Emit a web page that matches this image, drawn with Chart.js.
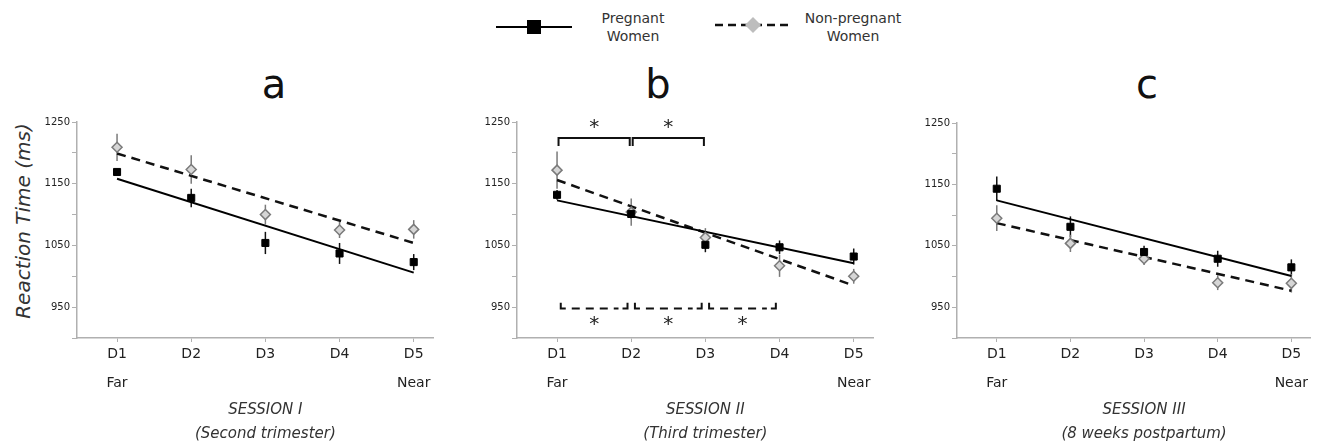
<!DOCTYPE html>
<html>
<head>
<meta charset="utf-8">
<script src="https://cdn.jsdelivr.net/npm/chart.js@4/dist/chart.umd.min.js"></script>
<style>
  body { margin: 0; background: #fff; }
  #wrap { position: relative; width: 1317px; height: 448px; overflow: hidden; font-family: "DejaVu Sans", Verdana, sans-serif; color: #333; }
  canvas { position: absolute; top: 100px; }
  .letter { position: absolute; top: 64px; width: 100px; text-align: center; font-size: 40px; line-height: 40px; color: #111; }
  .ytitle { position: absolute; left: 23px; top: 221px; transform: translate(-50%, -50%) rotate(-90deg); font-size: 20px; font-style: italic; white-space: nowrap; color: #333; }
  .legtext { position: absolute; top: 9px; width: 140px; text-align: center; font-size: 14px; line-height: 18px; color: #333; }
  #legsvg { position: absolute; left: 0; top: 0; }
</style>
</head>
<body>
<div id="wrap">
  <svg id="legsvg" width="1317" height="50">
    <line x1="496" y1="27" x2="572" y2="27" stroke="#000" stroke-width="2"/>
    <rect x="527" y="20" width="14" height="14" fill="#000"/>
    <line x1="715" y1="25" x2="790" y2="25" stroke="#111" stroke-width="2.5" stroke-dasharray="8 5"/>
    <polygon points="753,17 761,25 753,33 745,25" fill="#bdbdbd"/>
  </svg>
  <div class="legtext" style="left:563px">Pregnant<br>Women</div>
  <div class="legtext" style="left:783px">Non-pregnant<br>Women</div>
  <div class="letter" style="left:224px">a</div>
  <div class="letter" style="left:608px">b</div>
  <div class="letter" style="left:1097px">c</div>
  <div class="ytitle">Reaction Time (ms)</div>
  <canvas id="chartA" width="440" height="348" style="left:0px"></canvas>
  <canvas id="chartB" width="440" height="348" style="left:440px"></canvas>
  <canvas id="chartC" width="437" height="348" style="left:880px"></canvas>
</div>
<script>
// ---- data ----
var categories = ['D1', 'D2', 'D3', 'D4', 'D5'];
var distanceLabels = ['Far', '', '', '', 'Near'];
var yTickLabels = [950, 1050, 1150, 1250];
var sessionLabels = [
  ['SESSION I', '(Second trimester)'],
  ['SESSION II', '(Third trimester)'],
  ['SESSION III', '(8 weeks postpartum)']
];

// session I
var pregA = [1169, 1127, 1054, 1037, 1023];
var pregErrA = [5, 15, 18, 17, 13];
var nonPregA = [1209, 1173, 1100, 1075, 1076];
var nonPregErrA = [22, 23, 16, 13, 15];
var pregTrendA = [1158, 1006];      // fitted line at D1 and D5
var nonPregTrendA = [1199, 1054];

// session II
var pregB = [1132, 1101, 1051, 1047, 1032];
var pregErrB = [8, 8, 12, 11, 13];
var nonPregB = [1172, 1104, 1063, 1017, 1000];
var nonPregErrB = [30, 22, 15, 18, 12];
var pregTrendB = [1123, 1021];
var nonPregTrendB = [1156, 985];
var sigTopB = [[1, 2], [2, 3]];            // pregnant: significant pairs
var sigBottomB = [[1, 2], [2, 3], [3, 4]]; // non-pregnant: significant pairs

// session III
var pregC = [1143, 1081, 1040, 1029, 1015];
var pregErrC = [20, 17, 10, 13, 13];
var nonPregC = [1095, 1054, 1029, 990, 989];
var nonPregErrC = [21, 14, 10, 12, 15];
var pregTrendC = [1124, 1001];
var nonPregTrendC = [1087, 977];

var FONT = '"DejaVu Sans", Verdana, sans-serif';
var AXIS = '#b0b0b0';

function pts(arr) {
  return arr.map(function (v, i) { return { x: i + 1, y: v }; });
}
function trend(t) {
  return [{ x: 1, y: t[0] }, { x: categories.length, y: t[1] }];
}

// vertical error bars, drawn under the markers
var errorBars = {
  id: 'errorBars',
  beforeDatasetsDraw: function (chart) {
    var ctx = chart.ctx, ys = chart.scales.y;
    chart.data.datasets.forEach(function (ds, di) {
      if (!ds.errors) return;
      var meta = chart.getDatasetMeta(di);
      ctx.save();
      ctx.strokeStyle = ds.errorColor;
      ctx.lineWidth = 1.5;
      meta.data.forEach(function (pt, i) {
        var v = ds.data[i].y, e = ds.errors[i];
        ctx.beginPath();
        ctx.moveTo(pt.x, ys.getPixelForValue(v + e));
        ctx.lineTo(pt.x, ys.getPixelForValue(v - e));
        ctx.stroke();
      });
      ctx.restore();
    });
  }
};

// session caption under the axis + significance brackets
var extras = {
  id: 'extras',
  afterDraw: function (chart, args, opts) {
    var ctx = chart.ctx, xs = chart.scales.x, ys = chart.scales.y;
    var cx = xs.getPixelForValue(3), b = chart.chartArea.bottom;
    ctx.save();
    ctx.fillStyle = '#333';
    ctx.textAlign = 'center';
    ctx.textBaseline = 'middle';
    ctx.font = 'italic 15px ' + FONT;
    ctx.fillText(opts.session[0], cx, b + 72);
    ctx.fillText(opts.session[1], cx, b + 96);

    ctx.strokeStyle = '#111';
    ctx.lineWidth = 2;
    ctx.font = '20px ' + FONT;
    ctx.fillStyle = '#222';
    (opts.top || []).forEach(function (p) {
      var x1 = xs.getPixelForValue(p[0] + 0.02), x2 = xs.getPixelForValue(p[1] - 0.02);
      var y = ys.getPixelForValue(1224), yt = ys.getPixelForValue(1211);
      ctx.setLineDash([]);
      ctx.beginPath();
      ctx.moveTo(x1, yt); ctx.lineTo(x1, y); ctx.lineTo(x2, y); ctx.lineTo(x2, yt);
      ctx.stroke();
      ctx.fillText('*', (x1 + x2) / 2, ys.getPixelForValue(1240));
    });
    (opts.bottom || []).forEach(function (p) {
      var x1 = xs.getPixelForValue(p[0] + 0.05), x2 = xs.getPixelForValue(p[1] - 0.05);
      var y = ys.getPixelForValue(948), yt = ys.getPixelForValue(957);
      ctx.setLineDash([]);
      ctx.beginPath();
      ctx.moveTo(x1, yt); ctx.lineTo(x1, y); ctx.lineTo(x1 + 5, y);
      ctx.moveTo(x2, yt); ctx.lineTo(x2, y); ctx.lineTo(x2 - 5, y);
      ctx.stroke();
      ctx.setLineDash([8, 6]);
      ctx.beginPath();
      ctx.moveTo(x1 + 11, y); ctx.lineTo(x2 - 9, y);
      ctx.stroke();
      ctx.setLineDash([]);
      ctx.fillText('*', (x1 + x2) / 2, ys.getPixelForValue(922));
    });
    ctx.restore();
  }
};

function makeChart(id, preg, pregErr, nonPreg, nonPregErr, pregTrend, nonPregTrend, session, top, bottom, padTop, padRight) {
  return new Chart(document.getElementById(id), {
    type: 'line',
    data: {
      datasets: [
        { data: pts(preg), errors: pregErr, errorColor: '#111', showLine: false,
          pointStyle: 'rect', pointRadius: 5, pointBackgroundColor: '#000', pointBorderColor: '#000', pointBorderWidth: 1, order: 0 },
        { data: pts(nonPreg), errors: nonPregErr, errorColor: '#7a7a7a', showLine: false,
          pointStyle: 'rectRot', pointRadius: 5, pointBackgroundColor: '#d6d6d6', pointBorderColor: '#7a7a7a', pointBorderWidth: 1.5, order: 1 },
        { data: trend(pregTrend), borderColor: '#000', borderWidth: 2, pointRadius: 0, order: 2 },
        { data: trend(nonPregTrend), borderColor: '#111', borderWidth: 2.5, borderDash: [9, 6], pointRadius: 0, order: 3 }
      ]
    },
    options: {
      responsive: false,
      animation: false,
      devicePixelRatio: 1,
      layout: { padding: { top: padTop, right: padRight, left: 0, bottom: 0 } },
      plugins: {
        legend: { display: false },
        tooltip: { enabled: false },
        extras: { session: session, top: top, bottom: bottom }
      },
      scales: {
        x: {
          type: 'linear', min: 0.46, max: 5.26,
          afterBuildTicks: function (s) { s.ticks = categories.map(function (c, i) { return { value: i + 1 }; }); },
          afterFit: function (s) { s.height = 110; },
          grid: { drawOnChartArea: false, drawTicks: true, tickLength: 4, color: AXIS },
          border: { color: AXIS, width: 1.5 },
          ticks: {
            autoSkip: false, maxRotation: 0, padding: -2,
            font: { family: FONT, size: 14, lineHeight: 2.07 }, color: '#222',
            callback: function (v) {
              var i = v - 1;
              return distanceLabels[i] ? [categories[i], distanceLabels[i]] : categories[i];
            }
          }
        },
        y: {
          min: 900, max: 1250,
          afterFit: function (s) { s.width = 77; },
          grid: { drawOnChartArea: false, drawTicks: true, tickLength: 5, color: AXIS },
          border: { color: AXIS, width: 1.5 },
          ticks: {
            stepSize: 50, padding: 2, color: '#222',
            font: { family: FONT, size: 10 },
            callback: function (v) { return yTickLabels.indexOf(v) >= 0 ? String(v) : ''; }
          }
        }
      }
    },
    plugins: [errorBars, extras]
  });
}

makeChart('chartA', pregA, pregErrA, nonPregA, nonPregErrA, pregTrendA, nonPregTrendA, sessionLabels[0], null, null, 22, 7);
makeChart('chartB', pregB, pregErrB, nonPregB, nonPregErrB, pregTrendB, nonPregTrendB, sessionLabels[1], sigTopB, sigBottomB, 22, 7);
makeChart('chartC', pregC, pregErrC, nonPregC, nonPregErrC, pregTrendC, nonPregTrendC, sessionLabels[2], null, null, 23, 3);
</script>
</body>
</html>
